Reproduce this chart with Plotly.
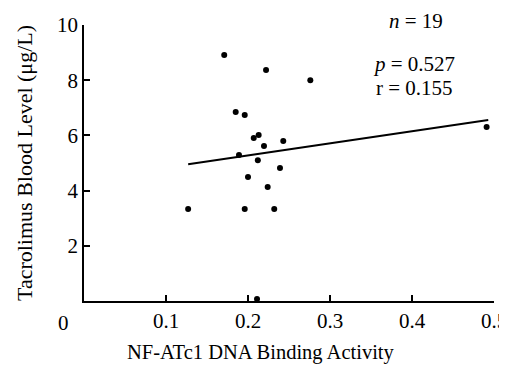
import plotly.graph_objects as go

# Data
binding_activity = [0.171, 0.276, 0.222, 0.185, 0.196, 0.207, 0.213, 0.2195, 0.243, 0.189,
                    0.212, 0.239, 0.200, 0.224, 0.196, 0.232, 0.127, 0.211, 0.491]
blood_level = [8.91, 8.00, 8.37, 6.85, 6.74, 5.91, 6.01, 5.62, 5.80, 5.29,
               5.10, 4.82, 4.49, 4.13, 3.33, 3.33, 3.33, 0.07, 6.30]

fit_slope = 4.37
fit_intercept = 4.40
fit_x = [0.127, 0.493]

x_ticks = [0.1, 0.2, 0.3, 0.4, 0.5]
x_tick_labels = ["0.1", "0.2", "0.3", "0.4", "0.5"]
y_ticks = [2, 4, 6, 8, 10]
y_tick_labels = ["2", "4", "6", "8", "10"]

FONT = "Liberation Serif, Times New Roman, serif"
TICKFONT = dict(family=FONT, size=21, color="black")

fig = go.Figure()
fig.add_trace(go.Scatter(
    x=fit_x, y=[fit_slope * v + fit_intercept for v in fit_x],
    mode="lines", line=dict(color="black", width=2), showlegend=False, hoverinfo="skip"))
fig.add_trace(go.Scatter(
    x=binding_activity, y=blood_level, mode="markers",
    marker=dict(color="black", size=6), cliponaxis=False, showlegend=False))

fig.update_xaxes(range=[0, 0.5], tickvals=x_ticks, ticktext=x_tick_labels,
                 ticks="inside", ticklen=6, tickwidth=1.5, tickcolor="black",
                 showline=True, linecolor="black", linewidth=1.5, showgrid=False,
                 zeroline=False, automargin=False, tickfont=TICKFONT)
fig.update_yaxes(range=[0, 10], tickvals=y_ticks, ticktext=y_tick_labels,
                 ticks="inside", ticklen=6, tickwidth=1.5, tickcolor="black",
                 ticksuffix="\u00a0",
                 showline=True, linecolor="black", linewidth=1.5, showgrid=False,
                 zeroline=False, automargin=False, tickfont=TICKFONT)

ann = []
ann.append(dict(text="0", xref="paper", yref="paper", x=0, y=0, xshift=-21, yshift=-22,
                xanchor="center", yanchor="middle", showarrow=False, font=TICKFONT))
ann.append(dict(text="NF-ATc1 DNA Binding Activity", xref="paper", yref="paper",
                x=0.432, y=0, yshift=-51, xanchor="center", yanchor="middle", showarrow=False,
                font=dict(family=FONT, size=20.5, color="black")))
ann.append(dict(text="Tacrolimus Blood Level (μg/L)", xref="paper", yref="paper",
                x=0, y=0.5, xshift=-60, xanchor="center", yanchor="middle",
                textangle=-90, showarrow=False,
                font=dict(family=FONT, size=22, color="black")))
ann.append(dict(text="<i>n</i> = 19", xref="paper", yref="paper", x=0.81, y=1.014,
                xanchor="center", yanchor="middle", showarrow=False, font=TICKFONT))
ann.append(dict(text="<i>p</i> = 0.527", xref="paper", yref="paper", x=0.805, y=0.859,
                xanchor="center", yanchor="middle", showarrow=False, font=TICKFONT))
ann.append(dict(text="r = 0.155", xref="paper", yref="paper", x=0.805, y=0.772,
                xanchor="center", yanchor="middle", showarrow=False, font=TICKFONT))

# page body has an 8px margin, so margins are reduced to keep the plot in place
fig.update_layout(width=507, height=365, margin=dict(l=76, r=21, t=17, b=72),
                  plot_bgcolor="white", paper_bgcolor="white", annotations=ann)
fig.write_html("out.html")
